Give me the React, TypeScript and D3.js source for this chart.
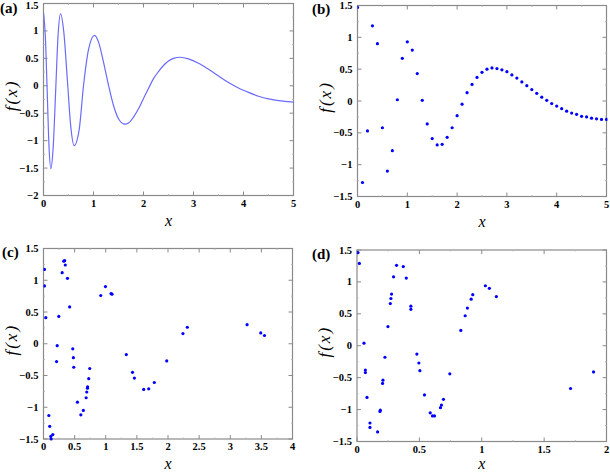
import React from "react";
import * as d3 from "d3";

// Panel (a): continuous curve
const curveX = [0, 0.037, 0.074, 0.11, 0.147, 0.195, 0.243, 0.29, 0.34, 0.408, 0.477, 0.545, 0.613, 0.715, 0.8, 0.9, 1.02, 1.1, 1.2, 1.3, 1.4, 1.5, 1.63, 1.7, 1.8, 1.9, 2.0, 2.1, 2.2, 2.3, 2.4, 2.5, 2.6, 2.73, 2.9, 3.1, 3.3, 3.5, 3.7, 3.9, 4.1, 4.3, 4.5, 4.7, 4.9, 5.0];
const curveY = [1.33, 0.9, -0.1, -1.1, -1.51, -1.1, -0.1, 0.9, 1.31, 0.96, 0.11, -0.74, -1.09, -0.79, 0.0, 0.66, 0.92, 0.8, 0.43, 0.01, -0.36, -0.6, -0.7, -0.68, -0.57, -0.42, -0.23, -0.05, 0.13, 0.26, 0.37, 0.45, 0.5, 0.52, 0.49, 0.41, 0.3, 0.18, 0.06, -0.04, -0.12, -0.19, -0.24, -0.27, -0.29, -0.3];

// Panel (b): regular samples
const bX = [0, 0.1, 0.2, 0.3, 0.4, 0.5, 0.6, 0.7, 0.8, 0.9, 1.0, 1.1, 1.2, 1.3, 1.4, 1.5, 1.6, 1.7, 1.8, 1.9, 2.0, 2.1, 2.2, 2.3, 2.4, 2.5, 2.6, 2.7, 2.8, 2.9, 3.0, 3.1, 3.2, 3.3, 3.4, 3.5, 3.6, 3.7, 3.8, 3.9, 4.0, 4.1, 4.2, 4.3, 4.4, 4.5, 4.6, 4.7, 4.8, 4.9, 5.0];
const bY = [1.47, -1.28, -0.47, 1.18, 0.9, -0.42, -1.1, -0.78, 0.02, 0.67, 0.93, 0.8, 0.43, 0.01, -0.36, -0.59, -0.69, -0.68, -0.57, -0.42, -0.23, -0.05, 0.13, 0.26, 0.37, 0.45, 0.5, 0.52, 0.51, 0.49, 0.46, 0.41, 0.36, 0.3, 0.24, 0.18, 0.12, 0.06, 0.01, -0.04, -0.08, -0.12, -0.16, -0.19, -0.21, -0.24, -0.25, -0.27, -0.28, -0.29, -0.29];

// Panel (c): irregular samples
const cX = [0.016, 0.016, 0.037, 0.086, 0.1, 0.118, 0.123, 0.15, 0.21, 0.22, 0.246, 0.3, 0.326, 0.34, 0.35, 0.385, 0.42, 0.47, 0.48, 0.486, 0.545, 0.6, 0.64, 0.685, 0.695, 0.706, 0.708, 0.727, 0.743, 0.92, 0.995, 1.085, 1.1, 1.33, 1.43, 1.46, 1.61, 1.69, 1.78, 1.98, 2.24, 2.31, 3.27, 3.49, 3.55];
const cY = [1.17, 0.91, 0.41, -1.13, -1.3, -1.46, -1.5, -1.43, -0.28, -0.03, 0.43, 1.12, 1.3, 1.31, 1.24, 1.03, 0.58, -0.08, -0.22, -0.37, -0.92, -1.12, -1.05, -0.85, -0.76, -0.7, -0.68, -0.55, -0.39, 0.76, 0.9, 0.79, 0.78, -0.17, -0.45, -0.54, -0.72, -0.71, -0.61, -0.27, 0.16, 0.26, 0.3, 0.17, 0.13];

// Panel (d): irregular samples
const dX = [0.008, 0.019, 0.056, 0.067, 0.067, 0.08, 0.104, 0.104, 0.165, 0.184, 0.187, 0.205, 0.208, 0.224, 0.248, 0.267, 0.272, 0.277, 0.293, 0.317, 0.371, 0.395, 0.432, 0.432, 0.48, 0.496, 0.504, 0.541, 0.587, 0.605, 0.621, 0.669, 0.677, 0.693, 0.744, 0.832, 0.867, 0.885, 0.915, 0.928, 1.029, 1.061, 1.117, 1.712, 1.896];
const dY = [1.46, 1.29, 0.04, -0.38, -0.42, -0.81, -1.21, -1.28, -1.35, -1.03, -1.01, -0.59, -0.54, -0.18, 0.3, 0.66, 0.74, 0.81, 1.08, 1.26, 1.24, 1.06, 0.62, 0.57, -0.13, -0.27, -0.39, -0.77, -1.05, -1.1, -1.1, -0.97, -0.93, -0.84, -0.44, 0.24, 0.47, 0.59, 0.73, 0.8, 0.94, 0.9, 0.77, -0.67, -0.41];

const ticksA_Y = [-2, -1.5, -1, -0.5, 0, 0.5, 1, 1.5];
const ticksY = [-1.5, -1, -0.5, 0, 0.5, 1, 1.5];
const ticksX5 = [0, 1, 2, 3, 4, 5];
const ticksX4 = [0, 0.5, 1, 1.5, 2, 2.5, 3, 3.5, 4];
const ticksX2 = [0, 0.5, 1, 1.5, 2];

const FONT = "Liberation Serif, Tinos, Times New Roman, Times, serif";
const FRAME = "#8a8a8a";

type PanelProps = {
  left: number; top: number; right: number; bottom: number;
  xDomain: [number, number]; yDomain: [number, number];
  xTicks: number[]; yTicks: number[];
  label: string; labelX: number; labelY: number;
  xs: number[]; ys: number[]; line?: boolean;
};

function Panel(p: PanelProps) {
  const x = d3.scaleLinear().domain(p.xDomain).range([p.left, p.right]);
  const y = d3.scaleLinear().domain(p.yDomain).range([p.bottom, p.top]);
  const fmt = d3.format("");
  const T = 4;
  const pts = p.xs.map((v, i) => [v, p.ys[i]] as [number, number]);
  const path = p.line
    ? d3.line<[number, number]>().x((d) => x(d[0])).y((d) => y(d[1])).curve(d3.curveMonotoneX)(pts)
    : null;
  const xMinor: number[] = [];
  for (let i = 0; i < p.xTicks.length - 1; i++) xMinor.push((p.xTicks[i] + p.xTicks[i + 1]) / 2);
  const yMinor: number[] = [];
  for (let i = 0; i < p.yTicks.length - 1; i++) yMinor.push((p.yTicks[i] + p.yTicks[i + 1]) / 2);
  const tickStyle = { fontFamily: FONT, fontWeight: "bold" as const, fontSize: "10.5px" };
  return (
    <g>
      <defs>
        <clipPath id={"clip" + p.label}>
          <rect x={p.left} y={p.top - 2} width={p.right - p.left + 1} height={p.bottom - p.top + 4} />
        </clipPath>
      </defs>
      <rect x={p.left} y={p.top} width={p.right - p.left} height={p.bottom - p.top} fill="white" stroke={FRAME} strokeWidth={1.2} />
      {p.xTicks.map((t) => (
        <g key={"xt" + t}>
          <line x1={x(t)} x2={x(t)} y1={p.bottom} y2={p.bottom - T} stroke={FRAME} />
          <line x1={x(t)} x2={x(t)} y1={p.top} y2={p.top + T} stroke={FRAME} />
          <text x={x(t)} y={p.bottom + 11} textAnchor="middle" style={tickStyle}>{fmt(t)}</text>
        </g>
      ))}
      {xMinor.map((t) => (
        <g key={"xm" + t}>
          <line x1={x(t)} x2={x(t)} y1={p.bottom} y2={p.bottom - 1.5} stroke="#bbb" />
          <line x1={x(t)} x2={x(t)} y1={p.top} y2={p.top + 1.5} stroke="#bbb" />
        </g>
      ))}
      {p.yTicks.map((t) => (
        <g key={"yt" + t}>
          <line x1={p.left} x2={p.left + T} y1={y(t)} y2={y(t)} stroke={FRAME} />
          <line x1={p.right} x2={p.right - T} y1={y(t)} y2={y(t)} stroke={FRAME} />
          <text x={p.left - 5} y={Math.max(y(t) + 3.5, 8.5)} textAnchor="end" style={tickStyle}>{fmt(t)}</text>
        </g>
      ))}
      {yMinor.map((t) => (
        <g key={"ym" + t}>
          <line x1={p.left} x2={p.left + 1.5} y1={y(t)} y2={y(t)} stroke="#bbb" />
          <line x1={p.right} x2={p.right - 1.5} y1={y(t)} y2={y(t)} stroke="#bbb" />
        </g>
      ))}
      <g clipPath={`url(#clip${p.label})`}>
        {path && <path d={path} fill="none" stroke="#6a6aff" strokeWidth={1.2} />}
        {!p.line && pts.map((d, i) => (
          <circle key={i} cx={x(d[0])} cy={y(d[1])} r={1.6} fill="#0000ff" />
        ))}
      </g>
      <text x={(p.left + p.right) / 2} y={Math.min(p.bottom + 30, 469)} textAnchor="middle"
        style={{ fontFamily: FONT, fontStyle: "italic", fontSize: "16px" }}>x</text>
      <text transform={`translate(${p.left - 27},${(p.top + p.bottom) / 2 - 4}) rotate(-90)`} textAnchor="middle"
        style={{ fontFamily: FONT, fontStyle: "italic", fontSize: "17px", letterSpacing: "2px" }}>f(x)</text>
      <text x={p.labelX} y={p.labelY} style={{ fontFamily: FONT, fontWeight: "bold", fontSize: "15px" }}>{`(${p.label})`}</text>
    </g>
  );
}

export default function App() {
  return (
    <svg width={610} height={473} style={{ position: "absolute", left: 0, top: 0, background: "white" }}>
      <Panel left={43.5} top={3.5} right={293.5} bottom={195.5} xDomain={[0, 5]} yDomain={[-2, 1.5]}
        xTicks={ticksX5} yTicks={ticksA_Y} label="a" labelX={0} labelY={13} xs={curveX} ys={curveY} line />
      <Panel left={357.5} top={5.5} right={606.5} bottom={196.5} xDomain={[0, 5]} yDomain={[-1.5, 1.5]}
        xTicks={ticksX5} yTicks={ticksY} label="b" labelX={312} labelY={14} xs={bX} ys={bY} />
      <Panel left={43.5} top={248.5} right={292.5} bottom={439} xDomain={[0, 4]} yDomain={[-1.5, 1.5]}
        xTicks={ticksX4} yTicks={ticksY} label="c" labelX={2} labelY={257} xs={cX} ys={cY} />
      <Panel left={357} top={250} right={606.5} bottom={441.5} xDomain={[0, 2]} yDomain={[-1.5, 1.5]}
        xTicks={ticksX2} yTicks={ticksY} label="d" labelX={312} labelY={259} xs={dX} ys={dY} />
    </svg>
  );
}
